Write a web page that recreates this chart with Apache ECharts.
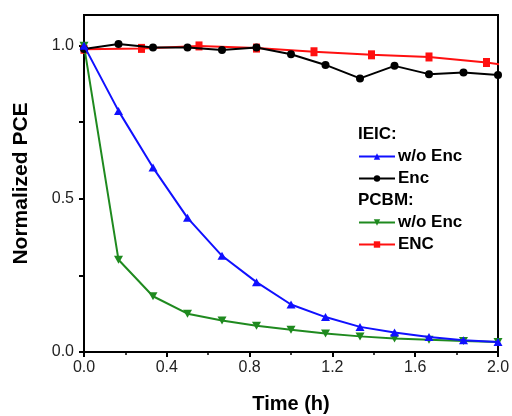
<!DOCTYPE html>
<html>
<head>
<meta charset="utf-8">
<script src="https://cdn.jsdelivr.net/npm/echarts@6/dist/echarts.min.js"></script>
<style>
  html, body { margin: 0; padding: 0; background: #fff; }
  #chart { width: 512px; height: 416px; }
</style>
</head>
<body>
<div id="chart"></div>
<script>
// Sampling times (h): devices measured every 10 min, encapsulated PCBM every ~16.7 min
const timesA = [0, 1/6, 2/6, 3/6, 4/6, 5/6, 1, 7/6, 8/6, 9/6, 10/6, 11/6, 2];
const timesB = [0, 5/18, 10/18, 15/18, 20/18, 25/18, 30/18, 35/18, 40/18];

// Normalized PCE values
const ieicNoEnc  = [1.0, 0.787, 0.602, 0.438, 0.314, 0.228, 0.155, 0.114, 0.082, 0.064, 0.049, 0.038, 0.033];
const ieicEnc    = [0.989, 1.005, 0.994, 0.994, 0.986, 0.994, 0.972, 0.937, 0.893, 0.934, 0.907, 0.912, 0.904];
const pcbmNoEnc  = [1.0, 0.301, 0.182, 0.125, 0.103, 0.086, 0.073, 0.060, 0.051, 0.044, 0.040, 0.036, 0.033];
const pcbmEnc    = [0.988, 0.991, 0.999, 0.992, 0.980, 0.970, 0.963, 0.945, 0.918];

const xTicks = [0, 0.4, 0.8, 1.2, 1.6, 2.0];
const yLabels = [0, 0.5, 1.0];
const yTicks = [0, 0.25, 0.5, 0.75, 1.0];

const pair = (xs, ys) => xs.map((x, i) => [x, ys[i]]);

const FONT = 'Liberation Sans, Arial, sans-serif';
const BLUE = '#1010ff';
const GREEN = '#1f8a1f';
const RED = '#ff1010';
const BLACK = '#000000';

const chart = echarts.init(document.getElementById('chart'), null, { renderer: 'canvas' });

const lineSeries = (name, data, color, symbol, size, z) => ({
  name, type: 'line', data,
  symbol, symbolSize: size, showSymbol: true,
  lineStyle: { color, width: 2 },
  itemStyle: { color, borderWidth: 0 },
  z, clip: true, animation: false
});

const legendCommon = {
  orient: 'vertical',
  left: 358,
  itemWidth: 36,
  itemHeight: 8,
  itemGap: 5,
  textStyle: { fontFamily: FONT, fontSize: 17, fontWeight: 'bold', color: '#000', padding: [0, 0, 0, -2] },
  selectedMode: false,
  padding: 0
};

chart.setOption({
  animation: false,
  backgroundColor: '#fff',
  grid: { left: 84, right: 14, top: 15, bottom: 64, outerBoundsMode: 'none', containLabel: false,
    show: true, borderColor: '#000', borderWidth: 2 },
  legend: [
    Object.assign({}, legendCommon, { top: 148, data: ['IEIC w/o Enc', 'IEIC Enc'],
      formatter: n => n.replace('IEIC ', '') }),
    Object.assign({}, legendCommon, { top: 214, data: ['PCBM w/o Enc', 'PCBM ENC'],
      formatter: n => n.replace('PCBM ', '') })
  ],
  graphic: [
    { type: 'text', left: 358, top: 126, style: { text: 'IEIC:', font: 'bold 17px ' + FONT, fill: '#000' } },
    { type: 'text', left: 358, top: 192, style: { text: 'PCBM:', font: 'bold 17px ' + FONT, fill: '#000' } }
  ],
  xAxis: {
    type: 'value', min: 0, max: 2, interval: 0.4,
    name: 'Time (h)', nameLocation: 'middle', nameGap: 42,
    nameTextStyle: { fontFamily: FONT, fontSize: 20, fontWeight: 'bold', color: '#000' },
    axisLine: { show: true, onZero: false, lineStyle: { color: '#000', width: 2 } },
    axisTick: { show: true, inside: false, length: 5, lineStyle: { color: '#000', width: 2 } },
    minorTick: { show: true, splitNumber: 2, length: 3, lineStyle: { color: '#000', width: 1.5 } },
    axisLabel: { fontFamily: FONT, fontSize: 16, color: '#222', margin: 8,
      formatter: v => v.toFixed(1), customValues: xTicks },
    splitLine: { show: false }
  },
  yAxis: {
    type: 'value', min: 0, max: 1.1,
    name: 'Normalized PCE', nameLocation: 'middle', nameGap: 52, nameRotate: 90,
    nameTextStyle: { fontFamily: FONT, fontSize: 21, fontWeight: 'bold', color: '#000' },
    axisLine: { show: true, onZero: false, lineStyle: { color: '#000', width: 2 } },
    axisTick: { show: true, inside: false, length: 5, lineStyle: { color: '#000', width: 2 }, customValues: yTicks },
    axisLabel: { fontFamily: FONT, fontSize: 16, color: '#222', margin: 10,
      formatter: v => v.toFixed(1), customValues: yLabels },
    splitLine: { show: false }
  },
  series: [
    lineSeries('PCBM ENC', pair(timesB, pcbmEnc), RED, 'rect', [7, 9], 2),
    lineSeries('PCBM w/o Enc', pair(timesA, pcbmNoEnc), GREEN, 'path://M0,0 L10,0 L5,9 Z', [9, 8], 3),
    lineSeries('IEIC Enc', pair(timesA, ieicEnc), BLACK, 'circle', 8, 4),
    lineSeries('IEIC w/o Enc', pair(timesA, ieicNoEnc), BLUE, 'triangle', [9, 8], 5)
  ]
});
</script>
</body>
</html>
